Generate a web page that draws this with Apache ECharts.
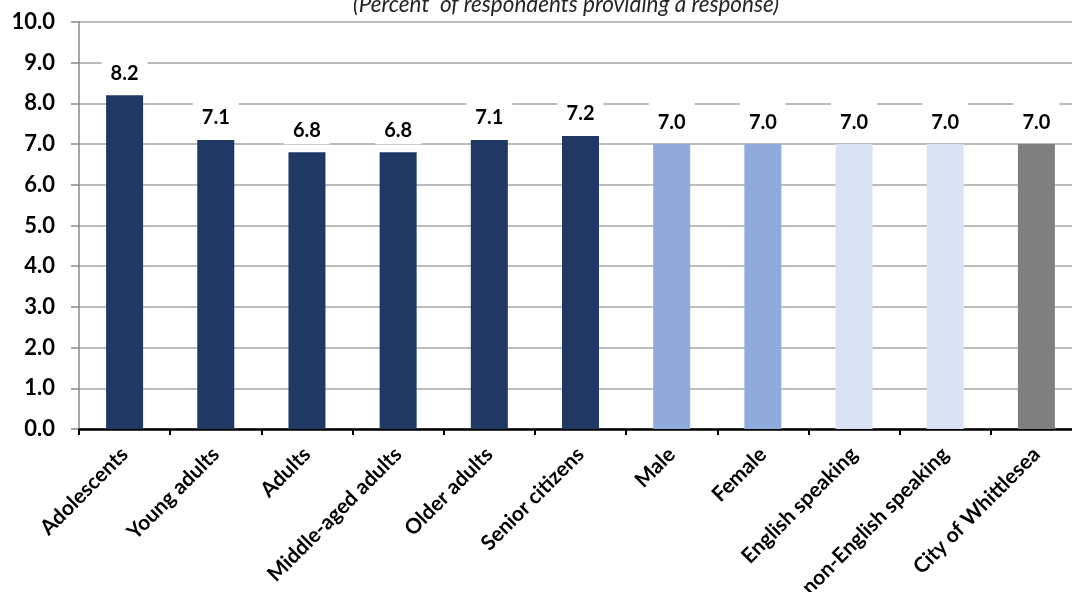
<!DOCTYPE html>
<html>
<head>
<meta charset="utf-8">
<script src="https://cdn.jsdelivr.net/npm/echarts@6/dist/echarts.min.js"></script>
<style>
  html, body { margin: 0; padding: 0; background: #fff; }
  #chart { width: 1072px; height: 592px; }
</style>
</head>
<body>
<div id="chart"></div>
<script>
// Average score by respondent group
const categories = ['Adolescents', 'Young adults', 'Adults', 'Middle-aged adults', 'Older adults',
  'Senior citizens', 'Male', 'Female', 'English speaking', 'non-English speaking', 'City of Whittlesea'];
const values = [8.2, 7.1, 6.8, 6.8, 7.1, 7.2, 7.0, 7.0, 7.0, 7.0, 7.0];
// Group colour for each bar: age groups, gender, language, whole municipality
const barColors = ['#203864', '#203864', '#203864', '#203864', '#203864', '#203864',
  '#8faadc', '#8faadc', '#dae3f3', '#dae3f3', '#7f7f7f'];
const yTicks = { min: 0, max: 10, step: 1 };
const subtitle = '(Percent  of respondents providing a response)';

const chart = echarts.init(document.getElementById('chart'), null, { renderer: 'canvas' });

chart.setOption({
  animation: false,
  backgroundColor: '#ffffff',
  title: {
    text: subtitle,
    left: 561,
    top: -12,
    textAlign: 'center',
    textStyle: {
      fontFamily: 'Lato',
      fontStyle: 'italic',
      fontWeight: 'normal',
      fontSize: 22.5,
      lineHeight: 24,
      color: '#262626'
    }
  },
  grid: { left: 79, right: -10, top: 22, bottom: 163, containLabel: false, outerBoundsMode: 'none' },
  xAxis: {
    type: 'category',
    data: categories,
    boundaryGap: true,
    axisLine: { show: true, lineStyle: { color: '#000', width: 2.5 } },
    axisTick: { show: true, inside: false, length: 6, lineStyle: { color: '#000', width: 2 } },
    axisLabel: {
      interval: 0,
      rotate: 45,
      margin: 22,
      fontFamily: 'Lato',
      fontWeight: 'bold',
      fontSize: 21,
      color: '#000'
    },
    splitLine: { show: false }
  },
  yAxis: {
    type: 'value',
    min: yTicks.min,
    max: yTicks.max,
    interval: yTicks.step,
    axisLine: { show: true, lineStyle: { color: '#898989', width: 1.5 } },
    axisTick: { show: true, inside: false, length: 8, lineStyle: { color: '#898989', width: 1.5 } },
    axisLabel: {
      margin: 24,
      fontFamily: 'Lato',
      fontWeight: 'bold',
      fontSize: 22,
      color: '#000',
      formatter: v => v.toFixed(1)
    },
    splitLine: { show: true, lineStyle: { color: '#a6a6a6', width: 1.5, type: 'solid' } }
  },
  series: [{
    type: 'bar',
    barWidth: 37,
    data: values.map((v, i) => ({ value: v, itemStyle: { color: barColors[i] } })),
    label: {
      show: true,
      position: 'top',
      distance: 8,
      formatter: p => p.value.toFixed(1),
      fontFamily: 'Lato',
      fontWeight: 'bold',
      fontSize: 20,
      lineHeight: 20,
      color: '#000',
      backgroundColor: '#ffffff',
      padding: [12, 9, 4, 9]
    }
  }]
});
</script>
</body>
</html>
